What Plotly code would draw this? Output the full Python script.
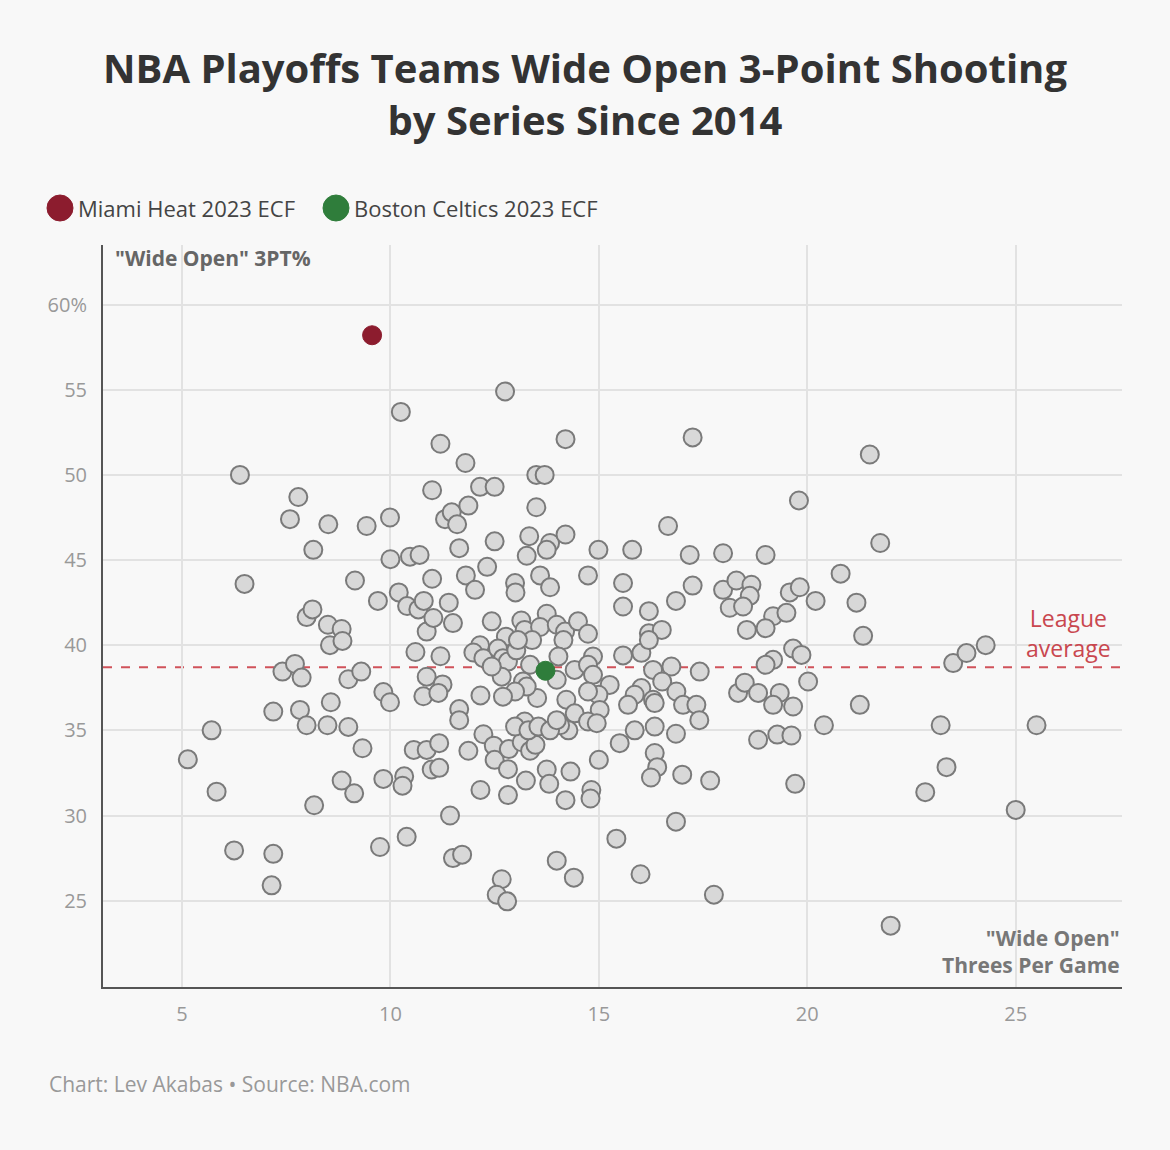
import plotly.graph_objects as go

# "Wide Open" threes per game (x) and "Wide Open" 3PT% (y) for each team-series
threes_per_game = [
    5.14, 5.71, 5.83, 6.25, 6.39, 6.5, 7.19, 7.19, 7.15, 7.41, 7.59, 7.71, 7.79, 7.87, 7.83, 7.99, 7.99,
    8.13, 8.15, 8.17, 8.51, 8.5, 8.49, 8.55, 8.57, 8.83, 8.85, 8.83, 8.99, 8.99, 9.15, 9.13, 9.3, 9.33,
    9.43, 9.75, 9.7, 9.83, 9.83, 9.99, 10.0, 9.99,
    10.25, 10.2, 10.4, 10.47, 10.7, 10.67, 10.8, 10.6, 10.87, 10.87, 10.79, 10.33, 10.29, 10.39, 10.56,
    10.87, 11.17, 10.99, 11.17, 11.0, 11.2, 11.0, 11.03, 11.2, 11.25, 11.15, 11.31, 11.47, 11.6, 11.87,
    11.8, 11.65, 11.4, 11.5, 11.65, 11.65, 11.43, 11.5, 11.72, 11.81, 12.03, 12.32, 12.15, 12.5, 12.5,
    12.43, 12.15, 11.99, 12.23, 12.16, 12.23, 11.87,
    12.48, 12.5, 12.84, 12.82, 13.15, 13.35, 13.48,
    12.16, 12.82, 13.25, 13.75, 13.81, 14.32, 14.2, 14.82, 14.8, 15.0, 15.5, 16.34, 16.4, 16.25, 17.0,
    17.67, 16.85, 15.42, 13.99, 14.4, 12.67, 12.55, 12.8, 16.0, 17.76,
    12.75, 14.2, 17.25, 13.5, 13.7, 13.5, 13.33, 13.83, 14.2, 16.66, 19.8, 21.5, 21.75, 13.27, 13.75,
    14.99, 15.8, 17.18, 17.98, 19.0, 20.8, 12.99, 13.0, 13.59, 13.83, 14.74, 15.58, 15.58, 17.25, 16.85,
    16.2, 17.98, 18.3, 18.66, 18.62, 18.14, 18.46, 18.55,
    13.14, 13.22, 12.77, 13.75, 13.59, 13.99, 14.19, 14.15, 14.5, 14.74, 13.4, 12.58, 12.7, 12.82, 13.02,
    13.06, 13.35, 13.18, 12.67, 12.43, 14.03, 13.99, 14.42, 14.86, 14.74, 14.86, 15.58, 16.02, 16.2,
    16.51, 16.2, 16.74, 17.42, 16.3, 16.52, 16.02, 15.86, 16.86, 16.3, 16.34, 17.02, 17.34, 17.41, 15.7,
    15.26, 14.99, 14.74, 14.22, 14.42, 15.02, 14.74, 14.95, 14.27, 14.07, 13.52, 13.27, 12.99, 12.7,
    13.22, 12.99, 13.31, 13.55, 13.83, 13.99, 15.86, 16.34, 16.85, 18.34, 18.5,
    20.2, 21.18, 21.34, 19.58, 19.82, 19.18, 19.5, 19.0, 19.66, 19.86, 19.18, 19.0, 18.82, 19.34, 19.18,
    19.66, 20.02, 21.26, 23.5, 23.82, 24.28, 20.4, 23.2, 25.5, 18.82, 19.28, 19.62, 19.71, 23.34, 22.83,
    25.0, 22.0,
]
three_pct = [
    33.3, 35.0, 31.4, 27.95, 50.0, 43.6, 36.1, 27.75, 25.9, 38.45, 47.4, 38.9, 48.7, 38.1, 36.2, 35.3, 41.65,
    42.1, 45.6, 30.6, 47.1, 41.2, 35.3, 40.0, 36.65, 40.95, 40.25, 32.05, 38.0, 35.2, 43.8, 31.3, 38.45, 33.95,
    47.0, 28.15, 42.6, 37.25, 32.15, 47.5, 45.05, 36.65,
    53.7, 43.1, 42.3, 45.2, 45.3, 42.1, 42.6, 39.6, 40.8, 38.15, 37.0, 32.3, 31.75, 28.75, 33.85,
    33.85, 34.25, 32.7, 32.8, 49.1, 51.83, 43.9, 41.6, 39.35, 37.7, 37.2, 47.4, 47.8, 47.1, 48.2,
    50.7, 45.7, 42.5, 41.3, 36.25, 35.6, 30.0, 27.5, 27.7, 44.1, 43.25, 44.6, 49.3, 49.3, 46.1,
    41.4, 40.0, 39.57, 39.24, 37.05, 34.77, 33.8,
    34.1, 33.27, 33.9, 32.72, 34.3, 33.8, 34.15,
    31.5, 31.2, 32.05, 32.7, 31.86, 32.58, 30.9, 31.5, 31.0, 33.27, 34.25, 33.67, 32.84, 32.23, 32.4,
    32.05, 29.64, 28.64, 27.35, 26.35, 26.26, 25.35, 24.96, 26.55, 25.35,
    54.9, 52.1, 52.2, 50.0, 50.0, 48.1, 46.4, 46.0, 46.5, 47.0, 48.5, 51.2, 46.0, 45.25, 45.6,
    45.6, 45.6, 45.3, 45.4, 45.3, 44.2, 43.65, 43.1, 44.1, 43.4, 44.1, 43.65, 42.27, 43.5, 42.6,
    42.0, 43.25, 43.8, 43.55, 42.9, 42.2, 42.27, 40.9,
    41.45, 40.9, 40.5, 41.85, 41.07, 41.2, 40.8, 40.3, 41.4, 40.67, 40.3, 39.8, 39.24, 39.04, 39.7,
    40.3, 38.85, 37.87, 38.15, 38.75, 39.34, 37.97, 38.55, 39.34, 38.85, 38.26, 39.4, 39.55, 40.7,
    40.9, 40.3, 38.75, 38.45, 38.55, 37.87, 37.48, 37.09, 37.28, 36.8, 36.6, 36.5, 36.5, 35.6, 36.5,
    37.67, 37.09, 37.28, 36.8, 36.0, 36.2, 35.52, 35.42, 35.0, 35.3, 36.9, 37.57, 37.28, 36.98,
    35.52, 35.22, 35.0, 35.22, 35.0, 35.6, 35.0, 35.22, 34.8, 37.2, 37.8,
    42.6, 42.5, 40.55, 43.1, 43.4, 41.7, 41.9, 41.0, 39.8, 39.43, 39.14, 38.85, 37.2, 37.2, 36.5,
    36.4, 37.87, 36.5, 38.95, 39.54, 40.0, 35.3, 35.3, 35.3, 34.45, 34.75, 34.7, 31.86, 32.84, 31.37,
    30.33, 23.53,
]

highlight_names = ["Miami Heat 2023 ECF", "Boston Celtics 2023 ECF"]
highlight_x = [9.56, 13.72]
highlight_y = [58.2, 38.5]
highlight_colors = ["#8c1c2e", "#2f7d3b"]

league_average = 38.7
x_ticks = [5, 10, 15, 20, 25]
y_ticks = [25, 30, 35, 40, 45, 50, 55, 60]
y_tick_labels = ["25", "30", "35", "40", "45", "50", "55", "60%"]

FONT = "Open Sans"
BG = "#f8f8f8"
W, H = 1170, 1150
ML, MR, MT, MB = 103, 48, 245, 163
PW, PH = W - ML - MR, H - MT - MB


def px_x(px):
    return (px - ML) / PW


def px_y(py):
    return (H - MB - py) / PH


fig = go.Figure()

fig.add_trace(go.Scatter(
    x=threes_per_game, y=three_pct, mode="markers",
    marker=dict(size=18, color="#d8d8d8", line=dict(color="#7a7a7a", width=2)),
    showlegend=False, hoverinfo="x+y",
))
for name, hx, hy, col in zip(highlight_names, highlight_x, highlight_y, highlight_colors):
    fig.add_trace(go.Scatter(
        x=[hx], y=[hy], mode="markers", name=name,
        marker=dict(size=19, color=col, line=dict(color=col, width=1)),
        showlegend=False,
    ))

# league average dashed line
fig.add_shape(type="line", xref="x domain", yref="y", x0=0, x1=1,
              y0=league_average, y1=league_average,
              line=dict(color="#d0525a", width=2, dash="dash"), layer="below")

# manual legend
legend_px = [60, 336]
for lpx, name, col in zip(legend_px, highlight_names, highlight_colors):
    fig.add_shape(type="circle", xref="paper", yref="paper",
                  x0=px_x(lpx - 13), x1=px_x(lpx + 13),
                  y0=px_y(208 + 13), y1=px_y(208 - 13),
                  fillcolor=col, line=dict(color=col, width=1))
    fig.add_annotation(xref="paper", yref="paper", x=px_x(lpx + 16), y=px_y(208),
                       text=name, showarrow=False, xanchor="left", yanchor="middle",
                       font=dict(family=FONT, size=22, color="#444"))

annotations = [
    dict(x=px_x(585), y=px_y(93), xanchor="center", yanchor="middle",
         text="<b>NBA Playoffs Teams Wide Open 3-Point Shooting<br>by Series Since 2014</b>",
         font=dict(family=FONT, size=40, color="#333333")),
    dict(x=px_x(113), y=px_y(258), xanchor="left", yanchor="middle",
         text='<b>"Wide Open" 3PT%</b>', font=dict(family=FONT, size=21, color="#666")),
    dict(x=px_x(1122), y=px_y(951), xanchor="right", yanchor="middle",
         text='<b>"Wide Open"<br>Threes Per Game</b>', align="right",
         font=dict(family=FONT, size=21, color="#777")),
    dict(x=px_x(1068), y=px_y(633), xanchor="center", yanchor="middle",
         text="League<br>average", align="center",
         font=dict(family=FONT, size=23, color="#c9474f")),
    dict(x=px_x(47), y=px_y(1084), xanchor="left", yanchor="middle",
         text="Chart: Lev Akabas \u2022 Source: NBA.com",
         font=dict(family=FONT, size=21, color="#999")),
]
for a in annotations:
    fig.add_annotation(xref="paper", yref="paper", showarrow=False, **a)

fig.update_layout(
    width=W, height=H,
    paper_bgcolor=BG, plot_bgcolor=BG,
    margin=dict(l=ML, r=MR, t=MT, b=MB),
    font=dict(family=FONT, color="#999"),
    xaxis=dict(range=[3.105, 27.55], tickvals=x_ticks, showgrid=True, gridcolor="#e2e2e2", gridwidth=1.5,
               zeroline=False, showline=True, linecolor="#555", linewidth=2,
               ticks="", ticklabelstandoff=8, tickfont=dict(family=FONT, size=20, color="#999"),
               fixedrange=True),
    yaxis=dict(range=[19.93, 63.5], tickvals=y_ticks, ticktext=y_tick_labels, showgrid=True,
               gridcolor="#e2e2e2", gridwidth=1.5, zeroline=False, showline=True, linecolor="#555",
               linewidth=2, ticks="", ticklabelstandoff=10, tickfont=dict(family=FONT, size=20, color="#999"),
               fixedrange=True),
)

fig.write_html("out.html")
